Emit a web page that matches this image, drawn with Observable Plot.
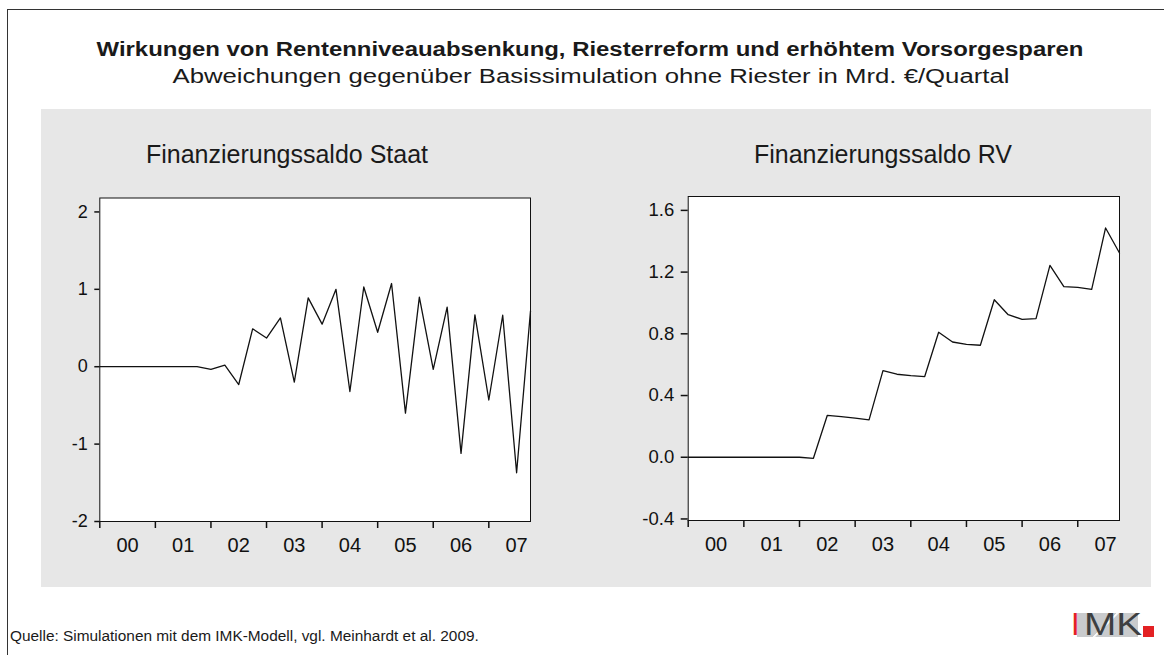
<!DOCTYPE html>
<html>
<head>
<meta charset="utf-8">
<script src="https://cdn.jsdelivr.net/npm/d3@7"></script>
<script src="https://cdn.jsdelivr.net/npm/@observablehq/plot@0.6"></script>
<style>
  html, body { margin: 0; padding: 0; background: #fff; }
  body { font-family: "Liberation Sans", Arial, sans-serif; color: #1a1a1a; }
  #page { position: relative; width: 1164px; height: 655px; overflow: hidden; background: #fff; }
  .frame { position: absolute; left: 7px; top: 9px; width: 1200px; height: 700px;
           border-top: 1.5px solid #333; border-left: 1.5px solid #333; }
  .panel { position: absolute; left: 41px; top: 109px; width: 1110px; height: 478px; background: #e7e7e7; }
  .txt { position: absolute; white-space: nowrap; line-height: 1; }
  .chart { position: absolute; }
  .logo { position: absolute; left: 1072px; top: 612px; width: 84px; height: 25px; }
</style>
</head>
<body>
<div id="page">
  <div class="frame"></div>
  <div class="panel"></div>
  <div class="txt" id="title" style="left:590px; top:39px; font-size:20px; font-weight:bold; transform:translateX(-50%) scaleX(1.196);"></div>
  <div class="txt" id="subtitle" style="left:591px; top:66px; font-size:20px; transform:translateX(-50%) scaleX(1.287);"></div>
  <div class="txt" id="t1" style="left:287px; top:142px; font-size:25px; transform:translateX(-50%);"></div>
  <div class="txt" id="t2" style="left:883px; top:142px; font-size:25px; transform:translateX(-50%);"></div>
  <div class="chart" id="c1" style="left:41px; top:180px;"></div>
  <div class="chart" id="c2" style="left:600px; top:180px;"></div>
  <div class="txt" id="caption" style="left:10px; top:628px; font-size:15.4px;"></div>
  <div class="logo">
    <span style="position:absolute; left:5px; top:1px; width:61px; height:24px; background:#c9cbcd;
                 background-image: linear-gradient(135deg, transparent 46%, rgba(255,255,255,0.9) 47%, rgba(255,255,255,0.9) 49%, transparent 50%);"></span>
    <span id="logoText" style="position:absolute; left:-1px; top:-3px; font-family:'Liberation Sans',Arial,sans-serif; font-size:31px; line-height:1; color:#3d3f41;"><span style="color:#e32124;">I</span><span style="display:inline-block; transform:scaleX(1.25); transform-origin:left; margin-left:4px;">MK</span></span>
    <span style="position:absolute; left:71px; top:14px; width:11px; height:11px; background:#e32124;"></span>
  </div>
</div>
<script>
// ---- data ----
const titleText = "Wirkungen von Rentenniveauabsenkung, Riesterreform und erhöhtem Vorsorgesparen";
const subtitleText = "Abweichungen gegenüber Basissimulation ohne Riester in Mrd. €/Quartal";
const panelTitles = ["Finanzierungssaldo Staat", "Finanzierungssaldo RV"];
const captionText = "Quelle: Simulationen mit dem IMK-Modell, vgl. Meinhardt et al. 2009.";

const years = [2000, 2001, 2002, 2003, 2004, 2005, 2006, 2007];
const yearLabels = ["00", "01", "02", "03", "04", "05", "06", "07"];
const quartersPerYear = 4;

// quarterly values 2000Q1 ... 2007Q4
const staat = [0, 0, 0, 0, 0, 0, 0, 0,
  -0.035, 0.02, -0.23, 0.49,
  0.37, 0.63, -0.2, 0.89,
  0.55, 1.0, -0.32, 1.03,
  0.445, 1.075, -0.6, 0.9,
  -0.035, 0.77, -1.12, 0.67,
  -0.43, 0.665, -1.37, 0.72];
const rv = [0, 0, 0, 0, 0, 0, 0, 0,
  0, -0.007, 0.272, 0.263,
  0.253, 0.242, 0.561, 0.538,
  0.529, 0.523, 0.81, 0.747,
  0.732, 0.726, 1.021, 0.924,
  0.894, 0.898, 1.244, 1.106,
  1.101, 1.088, 1.486, 1.324];

const staatTicks = [-2, -1, 0, 1, 2];
const rvTicks = [-0.4, 0.0, 0.4, 0.8, 1.2, 1.6];

document.getElementById("title").textContent = titleText;
document.getElementById("subtitle").textContent = subtitleText;
document.getElementById("t1").textContent = panelTitles[0];
document.getElementById("t2").textContent = panelTitles[1];
document.getElementById("caption").textContent = captionText;

function chart(cfg) {
  const data = cfg.values.map((v, i) => ({t: years[0] + i / quartersPerYear, v}));
  const xEnd = years[years.length - 1] + (quartersPerYear - 1) / quartersPerYear;
  const labelPos = years.map(y => y + 0.5);
  return Plot.plot({
    width: cfg.width, height: cfg.height,
    marginLeft: cfg.ml, marginRight: cfg.mr, marginTop: cfg.mt, marginBottom: cfg.mb,
    style: {background: "transparent", color: "#111", fontFamily: "'Liberation Sans', Arial, sans-serif", overflow: "visible"},
    x: {domain: [years[0], xEnd], axis: null},
    y: {domain: cfg.yDomain, axis: null},
    marks: [
      Plot.frame({fill: "white", stroke: "#111", strokeWidth: 1}),
      Plot.axisY({ticks: cfg.yTicks, tickFormat: cfg.yFormat, tickSize: cfg.yTickSize, tickPadding: cfg.yPad,
                  fontSize: cfg.yFont, strokeWidth: 1.5, line: true, label: null}),
      Plot.axisX({ticks: years, tickFormat: () => "", tickSize: 7, strokeWidth: 1.5, line: true, label: null}),
      Plot.axisX({ticks: labelPos, tickFormat: d => yearLabels[labelPos.indexOf(d)], tickSize: 0, tickPadding: 16, fontSize: 20, label: null}),
      Plot.line(data, {x: "t", y: "v", stroke: "#111", strokeWidth: 1.3})
    ]
  });
}

document.getElementById("c1").append(chart({
  values: staat, yDomain: [-2, 2.18], yTicks: staatTicks,
  yFormat: d => (d < 0 ? "-" : "") + Math.abs(d),
  width: 520, height: 400, ml: 58.3, mr: 31, mt: 17.5, mb: 59,
  yTickSize: 5, yPad: 7, yFont: 18
}));
document.getElementById("c2").append(chart({
  values: rv, yDomain: [-0.41, 1.69], yTicks: rvTicks,
  yFormat: d => (d < 0 ? "-" : "") + Math.abs(d).toFixed(1),
  width: 540, height: 400, ml: 87.7, mr: 21, mt: 16, mb: 60,
  yTickSize: 7, yPad: 7, yFont: 18.5
}));
</script>
</body>
</html>
